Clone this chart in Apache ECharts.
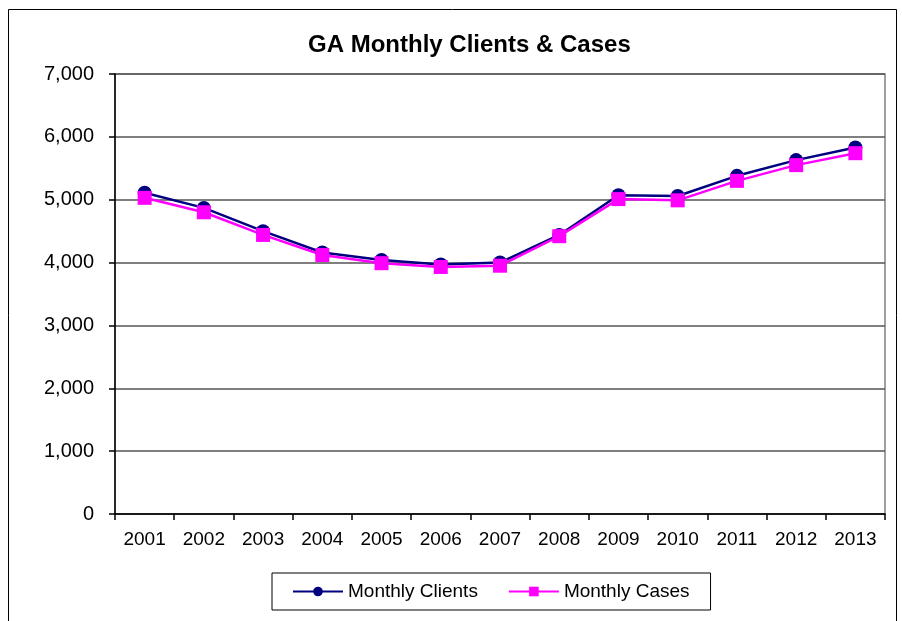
<!DOCTYPE html>
<html>
<head>
<meta charset="utf-8">
<script src="https://cdn.jsdelivr.net/npm/echarts@6/dist/echarts.min.js"></script>
<style>
html, body { margin: 0; padding: 0; background: #fff; }
#main { width: 902px; height: 621px; }
</style>
</head>
<body>
<div id="main"></div>
<script>
var years = ['2001', '2002', '2003', '2004', '2005', '2006', '2007', '2008', '2009', '2010', '2011', '2012', '2013'];
var monthlyClients = [5110, 4870, 4500, 4160, 4040, 3970, 4000, 4440, 5070, 5060, 5380, 5630, 5830];
var monthlyCases = [5030, 4800, 4440, 4120, 3990, 3930, 3950, 4420, 5010, 4990, 5300, 5550, 5740];
var yTicks = [0, 1000, 2000, 3000, 4000, 5000, 6000, 7000];

var font = 'Liberation Sans, Arial, sans-serif';
var chart = echarts.init(document.getElementById('main'));
chart.setOption({
    animation: false,
    backgroundColor: '#fff',
    textStyle: { fontFamily: font },
    graphic: [{
        type: 'rect',
        shape: { x: 8.5, y: 9.5, width: 888, height: 640 },
        style: { fill: null, stroke: '#000', lineWidth: 1 },
        silent: true
    }],
    title: {
        text: 'GA Monthly Clients & Cases',
        left: 308,
        top: 33,
        padding: 0,
        textStyle: { fontSize: 24, fontWeight: 'bold', color: '#000', fontFamily: font }
    },
    grid: {
        left: 115, right: 17, top: 74, bottom: 107,
        show: true,
        borderColor: '#808080',
        borderWidth: 1.5
    },
    legend: {
        data: ['Monthly Clients', 'Monthly Cases'],
        left: 272,
        top: 573,
        padding: [9, 21, 9, 20],
        itemGap: 30,
        itemWidth: 50,
        itemHeight: 12,
        borderColor: '#000',
        borderWidth: 1,
        textStyle: { fontSize: 19, color: '#000', fontFamily: font }
    },
    xAxis: {
        type: 'category',
        data: years,
        boundaryGap: true,
        axisLine: { lineStyle: { color: '#000', width: 1.5 } },
        axisTick: { show: true, length: 6, lineStyle: { color: '#000', width: 1.5 } },
        axisLabel: { fontSize: 19, color: '#000', margin: 16 },
        splitLine: { show: false }
    },
    yAxis: {
        type: 'value',
        min: yTicks[0],
        max: yTicks[yTicks.length - 1],
        interval: 1000,
        axisLine: { show: true, lineStyle: { color: '#000', width: 1.5 } },
        axisTick: { show: true, length: 6, lineStyle: { color: '#000', width: 1.5 } },
        axisLabel: {
            fontSize: 20, color: '#000', margin: 21,
            formatter: function (v) { return v.toLocaleString('en-US'); }
        },
        splitLine: { show: true, lineStyle: { color: '#555', width: 1.5 } }
    },
    series: [{
        name: 'Monthly Clients',
        type: 'line',
        data: monthlyClients,
        symbol: 'circle',
        symbolSize: 14,
        itemStyle: { color: '#000080' },
        lineStyle: { color: '#000080', width: 2.5 }
    }, {
        name: 'Monthly Cases',
        type: 'line',
        data: monthlyCases,
        symbol: 'rect',
        symbolSize: 14,
        itemStyle: { color: '#ff00ff' },
        lineStyle: { color: '#ff00ff', width: 2.5 }
    }]
});
</script>
</body>
</html>
